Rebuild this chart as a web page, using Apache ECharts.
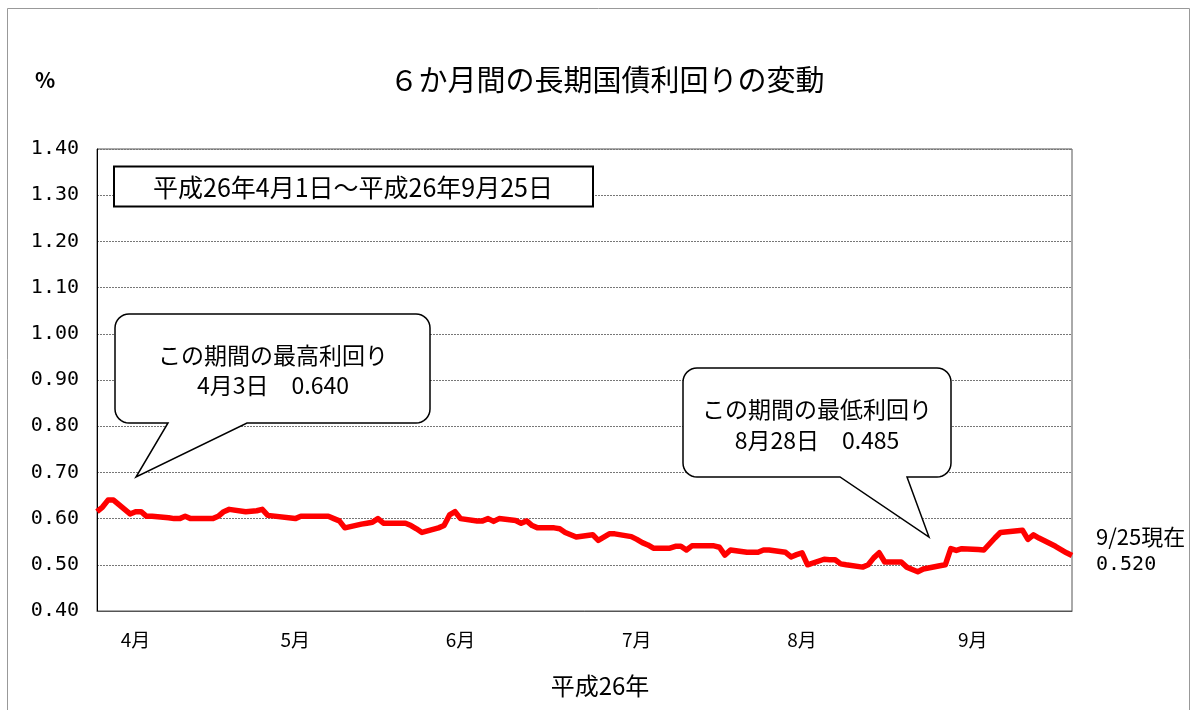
<!DOCTYPE html>
<html>
<head>
<meta charset="utf-8">
<script src="https://cdn.jsdelivr.net/npm/echarts@6/dist/echarts.min.js"></script>
<style>
html,body{margin:0;padding:0;background:#fff;}
#chart{width:1195px;height:710px;}
</style>
</head>
<body>
<div id="chart"></div>
<script>
// ---- data ----
const titleText = '６か月間の長期国債利回りの変動';
const unitText = '%';
const periodText = '平成26年4月1日～平成26年9月25日';
const xAxisTitle = '平成26年';
const highText = ['この期間の最高利回り', '4月3日　0.640'];
const lowText = ['この期間の最低利回り', '8月28日　0.485'];
const lastText = ['9/25現在', '0.520'];

const dates = [
  '2014-04-01','2014-04-02','2014-04-03','2014-04-04','2014-04-07','2014-04-08','2014-04-09','2014-04-10','2014-04-11',
  '2014-04-14','2014-04-15','2014-04-16','2014-04-17','2014-04-18','2014-04-21','2014-04-22','2014-04-23','2014-04-24',
  '2014-04-25','2014-04-28','2014-04-30',
  '2014-05-01','2014-05-02','2014-05-07','2014-05-08','2014-05-09','2014-05-12','2014-05-13','2014-05-14','2014-05-15',
  '2014-05-16','2014-05-19','2014-05-20','2014-05-21','2014-05-22','2014-05-23','2014-05-26','2014-05-27','2014-05-28',
  '2014-05-29','2014-05-30',
  '2014-06-02','2014-06-03','2014-06-04','2014-06-05','2014-06-06','2014-06-09','2014-06-10','2014-06-11','2014-06-12',
  '2014-06-13','2014-06-16','2014-06-17','2014-06-18','2014-06-19','2014-06-20','2014-06-23','2014-06-24','2014-06-25',
  '2014-06-26','2014-06-27','2014-06-30',
  '2014-07-01','2014-07-02','2014-07-03','2014-07-04','2014-07-07','2014-07-08','2014-07-09','2014-07-10','2014-07-11',
  '2014-07-14','2014-07-15','2014-07-16','2014-07-17','2014-07-18','2014-07-22','2014-07-23','2014-07-24','2014-07-25',
  '2014-07-28','2014-07-29','2014-07-30','2014-07-31',
  '2014-08-01','2014-08-04','2014-08-05','2014-08-06','2014-08-07','2014-08-08','2014-08-11','2014-08-12','2014-08-13',
  '2014-08-14','2014-08-15','2014-08-18','2014-08-19','2014-08-20','2014-08-21','2014-08-22','2014-08-25','2014-08-26',
  '2014-08-27','2014-08-28','2014-08-29',
  '2014-09-01','2014-09-02','2014-09-03','2014-09-04','2014-09-05','2014-09-08','2014-09-09','2014-09-10','2014-09-11',
  '2014-09-12','2014-09-16','2014-09-17','2014-09-18','2014-09-19','2014-09-22','2014-09-24','2014-09-25'
];

const yields = [
  // April
  0.615,0.625,0.640,0.640,0.610,0.615,0.615,0.605,0.605,
  0.602,0.600,0.600,0.605,0.600,0.600,0.600,0.605,0.615,
  0.620,0.615,0.617,
  // May
  0.620,0.607,0.600,0.605,0.605,0.605,0.605,0.600,0.595,
  0.580,0.588,0.590,0.592,0.600,0.590,0.590,0.590,0.585,
  0.578,0.570,
  // June
  0.580,0.585,0.608,0.615,0.600,0.595,0.595,0.600,0.594,
  0.600,0.596,0.590,0.595,0.585,0.580,0.580,0.578,0.570,
  0.565,0.560,0.565,
  // July
  0.553,0.560,0.567,0.567,0.561,0.555,0.548,0.543,0.536,
  0.536,0.540,0.540,0.532,0.541,0.541,0.538,0.521,0.532,
  0.527,0.527,0.527,0.532,
  // August
  0.532,0.527,0.517,0.522,0.526,0.500,0.512,0.511,0.511,
  0.502,0.500,0.495,0.500,0.515,0.526,0.506,0.506,0.495,
  0.490,0.485,0.491,
  // September
  0.498,0.500,0.535,0.531,0.535,0.533,0.532,0.545,0.558,
  0.570,0.575,0.555,0.565,0.558,0.540,0.526,0.520
];

const xMinDate = '2014-04-01';
const xMaxDate = '2014-09-25';
const monthLabelDates = ['2014-04-08','2014-05-07','2014-06-06','2014-07-08','2014-08-07','2014-09-07'];
const yTicks = [0.40,0.50,0.60,0.70,0.80,0.90,1.00,1.10,1.20,1.30,1.40];

// ---- helpers: x is the calendar day count from the first date ----
function ts(s){ const p = s.split('-').map(Number); return Date.UTC(p[0], p[1]-1, p[2]); }
const DAY = 86400000;
const t0 = ts(xMinDate);
function dayNo(s){ return Math.round((ts(s) - t0) / DAY); }
const seriesData = dates.map((d,i)=>[dayNo(d), yields[i]]);

const fontJP = '"Noto Sans CJK JP", sans-serif';
const fontNum = '"DejaVu Sans Mono", monospace';

// speech-bubble outline: rounded box with a tail from the bottom edge
function bubble(L, T, R, B, r, baseRight, tip, baseLeft){
  const pts = [];
  function arc(cx, cy, a0, a1){
    const n = 8;
    for (let k = 0; k <= n; k++){
      const a = (a0 + (a1 - a0) * k / n) * Math.PI / 180;
      pts.push([cx + r * Math.cos(a), cy + r * Math.sin(a)]);
    }
  }
  arc(R - r, T + r, -90, 0);
  arc(R - r, B - r, 0, 90);
  pts.push([baseRight, B]); pts.push(tip); pts.push([baseLeft, B]);
  arc(L + r, B - r, 90, 180);
  arc(L + r, T + r, 180, 270);
  return pts;
}

const chart = echarts.init(document.getElementById('chart'), null, {renderer:'canvas'});

function txt(x, y, text, font, align, valign){
  return {type:'text', x:x, y:y, silent:true, z:100,
    style:{text:text, font:font, fill:'#000', textAlign:align||'center', textVerticalAlign:valign||'middle'}};
}

const option = {
  backgroundColor:'#fff',
  animation:false,
  grid:{left:97, right:123, top:149, bottom:99, outerBoundsMode:'none', containLabel:false,
        show:true, borderColor:'#555', borderWidth:1, backgroundColor:'transparent'},
  xAxis:{
    type:'value',
    min:dayNo(xMinDate), max:dayNo(xMaxDate),
    axisLine:{show:true, lineStyle:{color:'#555', width:1}},
    axisTick:{show:false},
    splitLine:{show:false},
    axisLabel:{
      customValues: monthLabelDates.map(dayNo),
      formatter:function(v){ return (new Date(t0 + v*DAY).getUTCMonth()+1) + '月'; },
      color:'#000', fontFamily:fontJP, fontSize:19, margin:19
    },
    name:xAxisTitle, nameLocation:'middle', nameGap:63,
    nameTextStyle:{color:'#000', fontFamily:fontJP, fontSize:24, padding:[0,0,0,31]}
  },
  yAxis:{
    type:'value', min:yTicks[0], max:yTicks[yTicks.length-1], interval:0.1,
    axisLine:{show:true, lineStyle:{color:'#000', width:1}},
    axisTick:{show:false},
    splitLine:{show:true, lineStyle:{color:'#777', type:[2,1], width:1}},
    axisLabel:{formatter:function(v){return v.toFixed(2);}, color:'#000', fontFamily:fontNum, fontSize:20, margin:18}
  },
  series:[{
    type:'line', data:seriesData, showSymbol:false, symbol:'none',
    lineStyle:{color:'#ff0000', width:5.5, join:'round'},
    z:3
  }],
  graphic:[
    {type:'rect', silent:true, z:0, shape:{x:7.5, y:8.5, width:1182, height:720}, style:{fill:'none', stroke:'#999', lineWidth:1}},
    txt(607, 80, titleText, '29px ' + fontJP),
    txt(45, 80, unitText, 'bold 21px ' + fontJP),
    {type:'rect', silent:true, z:90, shape:{x:114, y:166.5, width:479, height:40}, style:{fill:'#fff', stroke:'#000', lineWidth:2}},
    txt(353, 187, periodText, '25px ' + fontJP),
    {type:'polygon', silent:true, z:90,
      shape:{points:bubble(115, 314, 430, 423, 14, 247, [136, 477], 168)},
      style:{fill:'#fff', stroke:'#000', lineWidth:1.5}},
    txt(273, 355, highText[0], '23px ' + fontJP),
    txt(273, 385, highText[1], '23px ' + fontJP),
    {type:'polygon', silent:true, z:90,
      shape:{points:bubble(683, 368, 951, 477, 14, 907, [929, 537], 840)},
      style:{fill:'#fff', stroke:'#000', lineWidth:1.5}},
    txt(817, 409, lowText[0], '23px ' + fontJP),
    txt(817, 440, lowText[1], '23px ' + fontJP),
    txt(1096, 537, lastText[0], '22px ' + fontJP, 'left'),
    txt(1096, 565, lastText[1], '20px ' + fontNum, 'left')
  ]
};
chart.setOption(option);
</script>
</body>
</html>
